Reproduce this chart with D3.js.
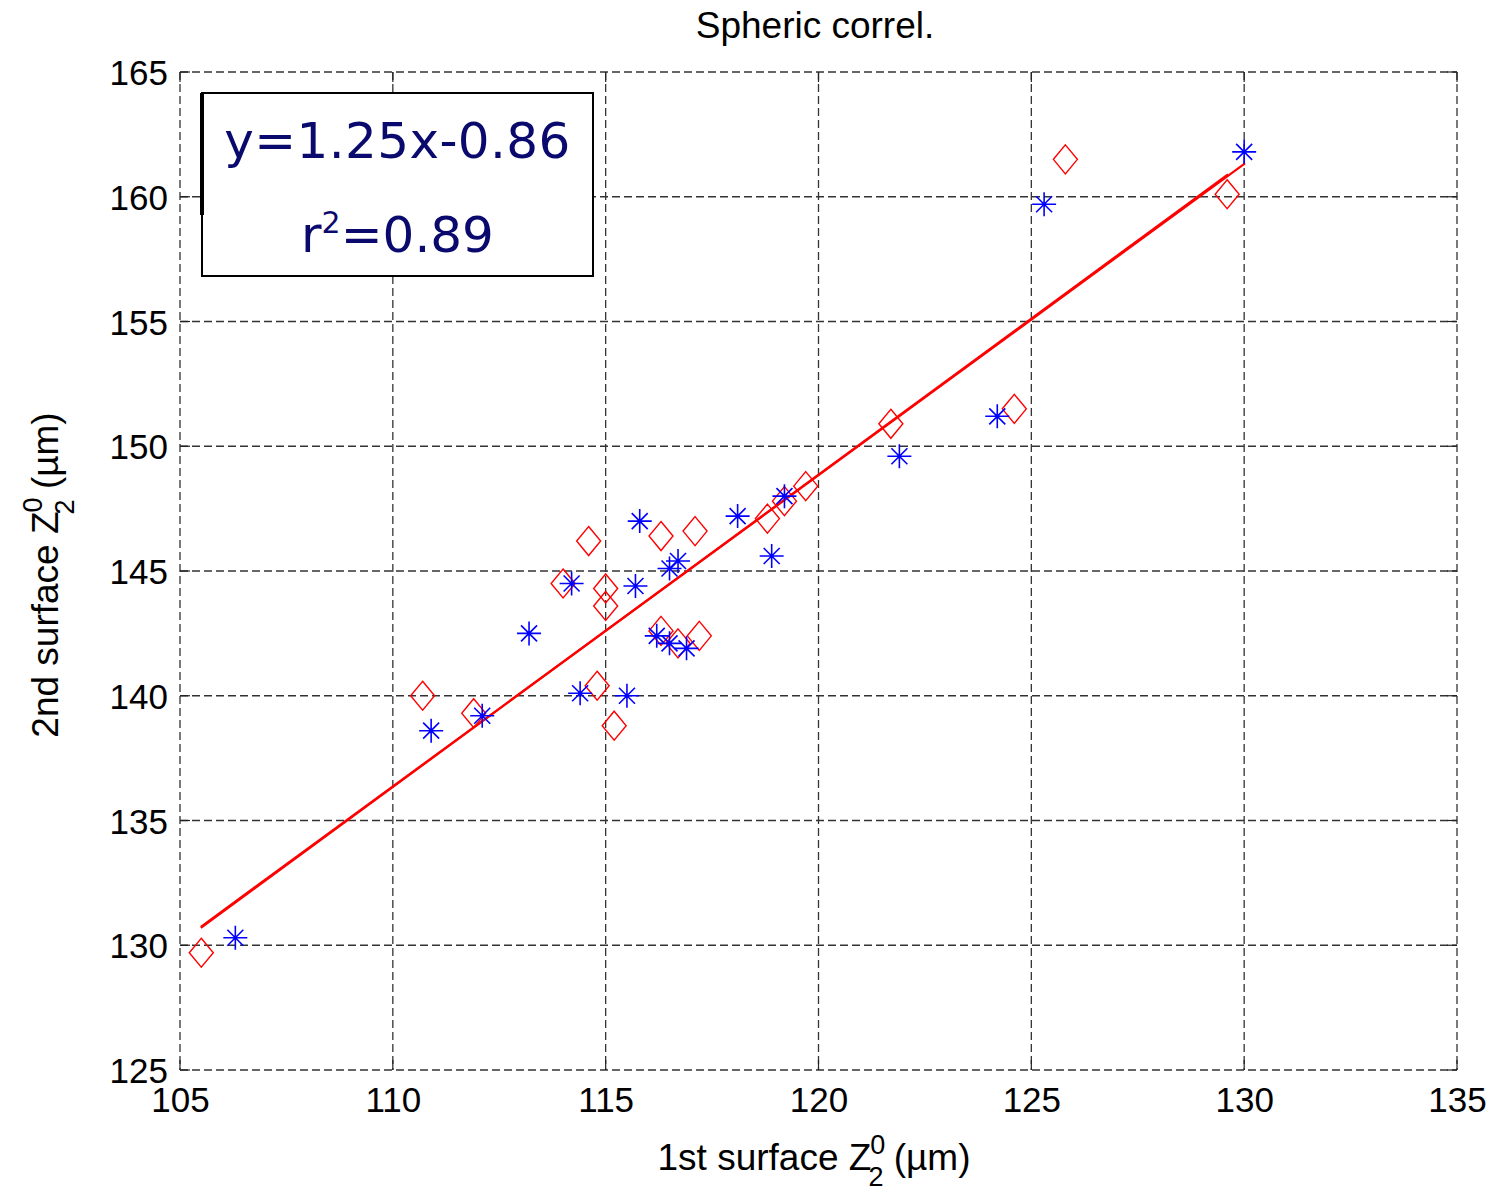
<!DOCTYPE html>
<html>
<head>
<meta charset="utf-8">
<script src="https://cdn.jsdelivr.net/npm/d3@7"></script>
<style>
  body { margin: 0; background: #fff; }
  svg { display: block; }
</style>
</head>
<body>
<svg id="chart" width="1508" height="1195"></svg>
<script>
// ---- data ----
const starX = [106.3, 110.9, 112.1, 113.2, 114.2, 114.4, 115.5, 115.7, 115.8, 116.2, 116.5, 116.5, 116.7, 116.9, 118.1, 118.9, 119.2, 121.9, 124.2, 125.3, 130.0];
const starY = [130.3, 138.6, 139.2, 142.5, 144.5, 140.1, 140.0, 144.4, 147.0, 142.4, 142.1, 145.1, 145.4, 141.9, 147.2, 145.6, 148.0, 149.6, 151.2, 159.7, 161.8];
const diamondX = [105.5, 110.7, 111.9, 114.0, 114.6, 114.8, 115.0, 115.0, 115.2, 116.3, 116.3, 116.7, 117.1, 117.2, 118.8, 119.2, 119.7, 121.7, 124.6, 125.8, 129.6];
const diamondY = [129.7, 140.0, 139.3, 144.5, 146.2, 140.4, 144.3, 143.6, 138.8, 146.4, 142.6, 142.1, 146.6, 142.4, 147.1, 147.8, 148.4, 150.9, 151.5, 161.5, 160.1];
// fitted lines (endpoints as drawn)
const fitA = [[105.49, 130.74], [130.02, 161.34]];
const fitB = [[105.49, 130.70], [129.62, 160.90]];
const xTicks = [105, 110, 115, 120, 125, 130, 135];
const yTicks = [125, 130, 135, 140, 145, 150, 155, 160, 165];
const xDomain = [105, 135];
const yDomain = [125, 165];
const titleText = "Spheric correl.";
const eqLines = ["y=1.25x-0.86", "r", "2", "=0.89"];

// ---- layout ----
const svg = d3.select("#chart");
const L = 180, R = 1457, T = 72, B = 1070;
const x = d3.scaleLinear().domain(xDomain).range([L, R]);
const y = d3.scaleLinear().domain(yDomain).range([B, T]);
const sansFont = "Arial, 'Liberation Sans', Helvetica, sans-serif";

// grid (dashed, includes the box edges)
const grid = svg.append("g").attr("stroke", "#333").attr("stroke-width", 1.3)
  .attr("stroke-dasharray", "8,4").attr("fill", "none");
grid.selectAll("line.gx").data(xTicks).enter().append("line")
  .attr("x1", d => x(d)).attr("x2", d => x(d)).attr("y1", T).attr("y2", B);
grid.selectAll("line.gy").data(yTicks).enter().append("line")
  .attr("y1", d => y(d)).attr("y2", d => y(d)).attr("x1", L).attr("x2", R);

// small inward ticks
const tk = svg.append("g").attr("stroke", "#222").attr("stroke-width", 1.2);
xTicks.forEach(d => {
  tk.append("line").attr("x1", x(d)).attr("x2", x(d)).attr("y1", B).attr("y2", B - 10);
  tk.append("line").attr("x1", x(d)).attr("x2", x(d)).attr("y1", T).attr("y2", T + 10);
});
yTicks.forEach(d => {
  tk.append("line").attr("y1", y(d)).attr("y2", y(d)).attr("x1", L).attr("x2", L + 10);
  tk.append("line").attr("y1", y(d)).attr("y2", y(d)).attr("x1", R).attr("x2", R - 10);
});

// axes labels via d3 axes (domain/tick lines hidden)
const xAxis = d3.axisBottom(x).tickValues(xTicks).tickSize(0).tickPadding(0).tickFormat(d3.format("d"));
const gx = svg.append("g").attr("transform", `translate(0,${B})`).call(xAxis);
gx.select(".domain").remove();
gx.selectAll("text").attr("font-family", sansFont).attr("font-size", 35).attr("fill", "#000")
  .attr("dy", null).attr("y", 42);

const yAxis = d3.axisLeft(y).tickValues(yTicks).tickSize(0).tickPadding(0).tickFormat(d3.format("d"));
const gy = svg.append("g").attr("transform", `translate(${L},0)`).call(yAxis);
gy.select(".domain").remove();
gy.selectAll("text").attr("font-family", sansFont).attr("font-size", 35).attr("fill", "#000")
  .attr("x", -12).attr("dy", "0.36em");

// fit lines
const lineGen = d3.line().x(d => x(d[0])).y(d => y(d[1]));
[fitA, fitB].forEach(f => {
  svg.append("path").attr("d", lineGen(f)).attr("stroke", "#ff0000").attr("stroke-width", 2.2).attr("fill", "none");
});

// diamonds
const dW = 12, dH = 14.5;
svg.append("g").selectAll("path").data(diamondX.map((v, i) => [v, diamondY[i]])).enter().append("path")
  .attr("d", d => {
    const cx = x(d[0]), cy = y(d[1]);
    return `M${cx},${cy - dH}L${cx + dW},${cy}L${cx},${cy + dH}L${cx - dW},${cy}Z`;
  })
  .attr("fill", "none").attr("stroke", "#ff0000").attr("stroke-width", 1.4);

// stars (asterisk = + and x)
const sA = 12, sD = 8;
const stars = svg.append("g").attr("stroke", "#0000ff").attr("stroke-width", 1.6).attr("fill", "none");
stars.selectAll("path").data(starX.map((v, i) => [v, starY[i]])).enter().append("path")
  .attr("d", d => {
    const cx = x(d[0]), cy = y(d[1]);
    return `M${cx - sA},${cy}L${cx + sA},${cy}M${cx},${cy - sA}L${cx},${cy + sA}` +
      `M${cx - sD},${cy - sD}L${cx + sD},${cy + sD}M${cx - sD},${cy + sD}L${cx + sD},${cy - sD}`;
  });

// equation box
const bx = 202, by = 93, bw = 391, bh = 183;
svg.append("rect").attr("x", bx).attr("y", by).attr("width", bw).attr("height", bh)
  .attr("fill", "#fff").attr("stroke", "#000").attr("stroke-width", 2);
svg.append("line").attr("x1", bx).attr("x2", bx).attr("y1", by).attr("y2", by + 122)
  .attr("stroke", "#000").attr("stroke-width", 4);
const eqFont = "'DejaVu Sans', Verdana, sans-serif";
svg.append("text").attr("x", bx + bw / 2).attr("y", 158).attr("text-anchor", "middle")
  .attr("font-family", eqFont).attr("font-size", 50).attr("fill", "#0a0a6e")
  .attr("letter-spacing", 0.4).text(eqLines[0]);
const t2 = svg.append("text").attr("x", bx + bw / 2).attr("y", 252).attr("text-anchor", "middle")
  .attr("font-family", eqFont).attr("font-size", 50).attr("fill", "#0a0a6e");
t2.append("tspan").text(eqLines[1]);
t2.append("tspan").attr("font-size", 30).attr("dy", -19).text(eqLines[2]);
t2.append("tspan").attr("dy", 19).text(eqLines[3]);

// title
svg.append("text").attr("x", 815).attr("y", 38).attr("text-anchor", "middle")
  .attr("font-family", sansFont).attr("font-size", 37).attr("fill", "#000").text(titleText);

// axis label builder: "Z" with stacked superscript 0 and subscript 2
function zLabel(sel, prefix) {
  sel.append("tspan").text(prefix + " Z");
  sel.append("tspan").attr("font-size", 27).attr("dy", -16).attr("dx", -1).text("0");
  sel.append("tspan").attr("font-size", 27).attr("dy", 32).attr("dx", -17).text("2");
  sel.append("tspan").attr("dy", -16).text(" (\u00b5m)");
}

// x label
const xl = svg.append("text").attr("x", 814).attr("y", 1170).attr("text-anchor", "middle")
  .attr("font-family", sansFont).attr("font-size", 37).attr("fill", "#000");
zLabel(xl, "1st surface");

// y label
const yl = svg.append("text").attr("transform", "translate(58,575) rotate(-90)").attr("text-anchor", "middle")
  .attr("font-family", sansFont).attr("font-size", 37).attr("fill", "#000");
zLabel(yl, "2nd surface");
</script>
</body>
</html>
